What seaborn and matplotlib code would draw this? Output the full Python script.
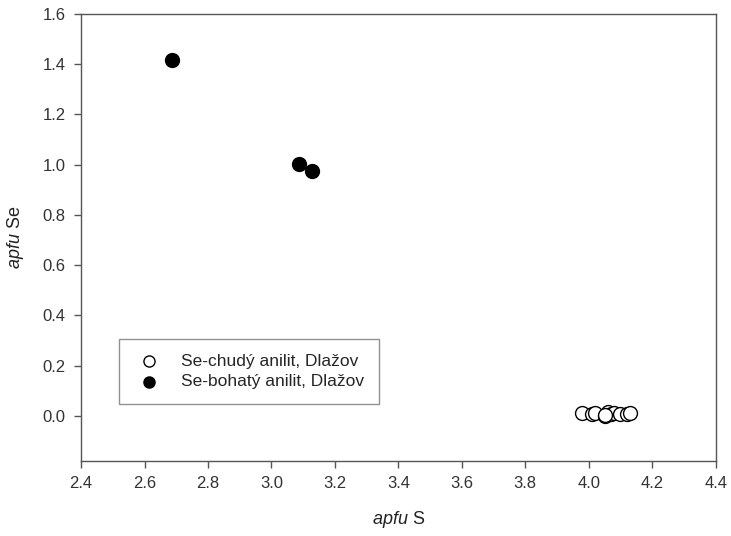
import numpy as np
import pandas as pd
import matplotlib
matplotlib.use("Agg")
import matplotlib.pyplot as plt
import seaborn as sns

# Se-chudy anilit (open circles)
poor_s = [3.98, 4.01, 4.02, 4.05, 4.06, 4.07, 4.08, 4.10, 4.12, 4.13, 4.05]
poor_se = [0.012, 0.005, 0.012, 0.0, 0.015, 0.005, 0.01, 0.008, 0.005, 0.01, 0.002]
# Se-bohaty anilit (filled circles)
rich_s = [2.687, 3.087, 3.128]
rich_se = [1.417, 1.002, 0.974]

labels = ["Se-chudý anilit, Dlažov", "Se-bohatý anilit, Dlažov"]

df = pd.DataFrame({
    "S": poor_s + rich_s,
    "Se": poor_se + rich_se,
    "typ": [labels[0]] * len(poor_s) + [labels[1]] * len(rich_s),
})

sns.set_style("ticks")
plt.rcParams["font.family"] = ["Liberation Sans", "DejaVu Sans"]
plt.rcParams["mathtext.fontset"] = "custom"
plt.rcParams["mathtext.it"] = "Liberation Sans:italic"
plt.rcParams["mathtext.rm"] = "Liberation Sans"

fig = plt.figure(figsize=(7.31, 5.36), dpi=100)
ax = fig.add_axes([0.111, 0.140, 0.868, 0.834])

sns.scatterplot(data=df[df.typ == labels[0]], x="S", y="Se", ax=ax,
                marker="o", s=100, facecolor="white", edgecolor="black",
                linewidth=1.0, label=labels[0], zorder=3)
sns.scatterplot(data=df[df.typ == labels[1]], x="S", y="Se", ax=ax,
                marker="o", s=100, color="black", edgecolor="black",
                linewidth=1.0, label=labels[1], zorder=3)

ax.set_xlim(2.4, 4.4)
ax.set_ylim(-0.18, 1.6)
ax.set_xticks(np.arange(2.4, 4.41, 0.2))
ax.set_yticks(np.arange(0.0, 1.61, 0.2))
ax.xaxis.set_major_formatter(matplotlib.ticker.FormatStrFormatter("%.1f"))
ax.yaxis.set_major_formatter(matplotlib.ticker.FormatStrFormatter("%.1f"))

for sp in ax.spines.values():
    sp.set_visible(True)
    sp.set_color("#555555")
    sp.set_linewidth(1.0)
ax.tick_params(direction="out", length=5, width=1.0, color="#555555",
               labelsize=12, labelcolor="#333333", pad=6)

ax.set_xlabel(r"$\mathit{apfu}$ S", fontsize=13, color="#222222", labelpad=13)
ax.set_ylabel(r"$\mathit{apfu}$ Se", fontsize=13, color="#222222", labelpad=12)

leg = ax.legend(loc="upper left", bbox_to_anchor=(119 / 731, 1 - 339 / 536),
                bbox_transform=fig.transFigure, fontsize=12.5, frameon=True,
                fancybox=False, edgecolor="#777777", borderpad=0.85,
                handletextpad=0.9, labelspacing=0.3, borderaxespad=0,
                markerscale=0.8, handlelength=1.8)
leg.get_frame().set_linewidth(1.0)

fig.savefig("out.png", dpi=100)
